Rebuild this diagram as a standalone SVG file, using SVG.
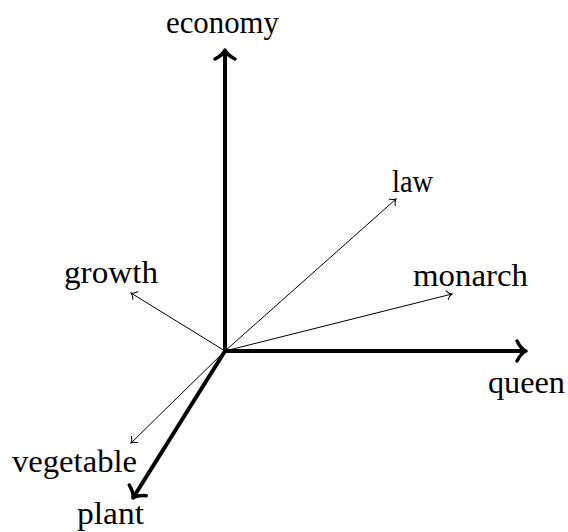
<svg xmlns="http://www.w3.org/2000/svg" width="568" height="532" viewBox="0 0 568 532">
<style>
text{font-family:"Liberation Serif","DejaVu Serif",serif;font-size:31px;fill:#000}
.thick{stroke:#000;stroke-width:4;fill:none;marker-end:url(#bighead)}
.thin{stroke:#000;stroke-width:1;fill:none;marker-end:url(#smallhead)}
</style>
<defs>
<marker id="bighead" markerUnits="userSpaceOnUse" viewBox="-15 -15 30 30" markerWidth="30" markerHeight="30" refX="0" refY="0" orient="auto" overflow="visible">
<path d="M-9,-10 C-6,-4 -2.5,-1 0,0 C-2.5,1 -6,4 -9,10" fill="none" stroke="#000" stroke-width="3.5" stroke-linecap="round" stroke-linejoin="round"/>
</marker>
<marker id="smallhead" markerUnits="userSpaceOnUse" viewBox="-10 -10 20 20" markerWidth="20" markerHeight="20" refX="0" refY="0" orient="auto" overflow="visible">
<path d="M-5,-4.5 C-3.5,-2 -1.5,-0.5 0,0 C-1.5,0.5 -3.5,2 -5,4.5" fill="none" stroke="#000" stroke-width="1" stroke-linecap="round"/>
</marker>
</defs>
<g id="connectors">
<line class="thin" x1="225" y1="351" x2="396" y2="199"/>
<line class="thin" x1="225" y1="351" x2="452" y2="294"/>
<line class="thin" x1="225" y1="351" x2="131" y2="293"/>
<line class="thin" x1="225" y1="351" x2="131" y2="443"/>
<line class="thick" x1="225" y1="353" x2="225" y2="50"/>
<line class="thick" x1="223" y1="351" x2="526" y2="351"/>
<line class="thick" x1="225" y1="351" x2="133" y2="498"/>
</g>
<g id="economy"><text x="166" y="33" textLength="113" lengthAdjust="spacingAndGlyphs">economy</text></g>
<g id="queen"><text x="488" y="393" textLength="77" lengthAdjust="spacingAndGlyphs">queen</text></g>
<g id="plant"><text x="77" y="524" textLength="67" lengthAdjust="spacingAndGlyphs">plant</text></g>
<g id="law"><text x="392" y="192" textLength="41" lengthAdjust="spacingAndGlyphs">law</text></g>
<g id="monarch"><text x="413" y="286" textLength="115" lengthAdjust="spacingAndGlyphs">monarch</text></g>
<g id="growth"><text x="64" y="283" textLength="94" lengthAdjust="spacingAndGlyphs">growth</text></g>
<g id="vegetable"><text x="12" y="472" textLength="125" lengthAdjust="spacingAndGlyphs">vegetable</text></g>
</svg>
